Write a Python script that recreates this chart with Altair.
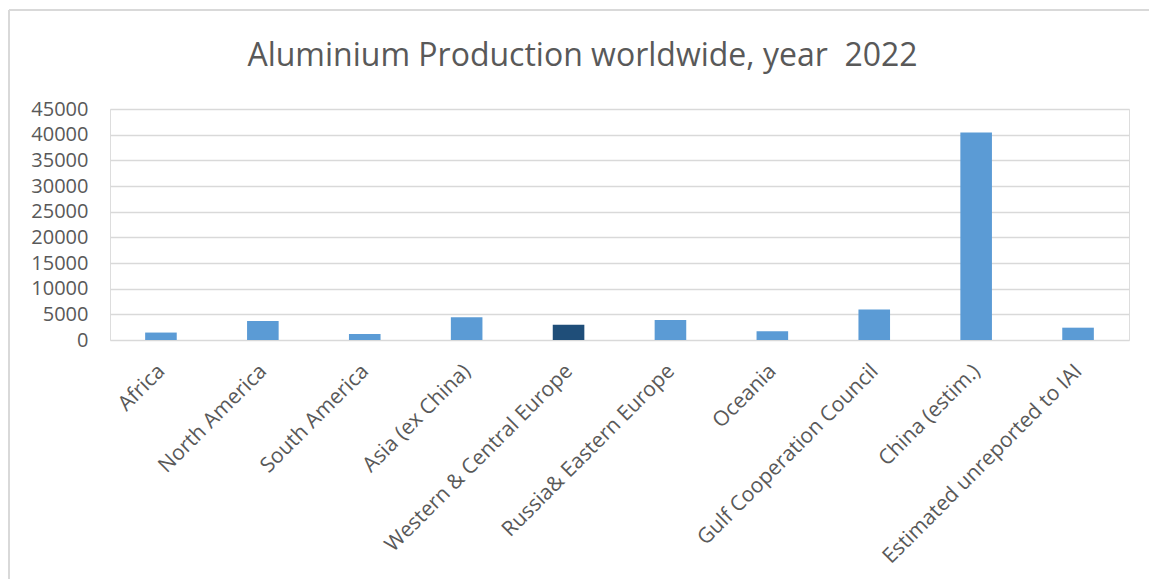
import altair as alt
import pandas as pd

categories = [
    "Africa", "North America", "South America", "Asia (ex China)",
    "Western & Central Europe", "Russia& Eastern Europe", "Oceania",
    "Gulf Cooperation Council", "China (estim.)", "Estimated unreported to IAI",
]
values = [1450, 3700, 1150, 4420, 2990, 3900, 1700, 5950, 40400, 2400]
highlighted = ["Western & Central Europe"]
y_ticks = [0, 5000, 10000, 15000, 20000, 25000, 30000, 35000, 40000, 45000]
title_text = "Aluminium Production worldwide, year \u00a02022"

df = pd.DataFrame({"region": categories, "value": values})

TEXT = "#595959"
GRID = "#D9D9D9"
FONT = "Open Sans"

bars = alt.Chart(df).mark_bar().encode(
    x=alt.X("region:N", sort=categories, title=None,
            scale=alt.Scale(paddingInner=0.69, paddingOuter=0.345),
            axis=alt.Axis(labelAngle=-45, labelAlign="right", labelBaseline="top",
                          labelFont=FONT, labelFontSize=21, labelColor=TEXT,
                          ticks=False, domain=False, labelPadding=20, labelOffset=-7,
                          labelLimit=400)),
    y=alt.Y("value:Q", title=None,
            scale=alt.Scale(domain=[0, 45000], nice=False),
            axis=alt.Axis(values=y_ticks, grid=True, gridColor=GRID, gridWidth=1.5,
                          domain=False, ticks=False, labelFont=FONT, labelFontSize=20,
                          labelColor=TEXT, labelPadding=22, format="d")),
    color=alt.condition(
        alt.FieldOneOfPredicate(field="region", oneOf=highlighted),
        alt.value("#1F4E79"), alt.value("#5B9BD5")),
)

left_border = alt.Chart(df).mark_rule(color=GRID, strokeWidth=2).encode(
    x=alt.value(-101), y=alt.value(-99), y2=alt.value(470))
top_border = alt.Chart(df).mark_rule(color=GRID, strokeWidth=2).encode(
    x=alt.value(-101), x2=alt.value(1039), y=alt.value(-99))

chart = alt.layer(left_border, top_border, bars).properties(
    width=1019, height=231,
    title=alt.TitleParams(title_text, font=FONT, fontSize=32, fontWeight="normal",
                          color=TEXT, anchor="middle", dx=-37, offset=-89,
                          baseline="alphabetic"),
    autosize=alt.AutoSizeParams(type="none"),
    padding={"left": 110, "top": 109, "right": 20, "bottom": 239},
).configure_view(stroke=None).configure(background="white")

chart.save("out.html", embed_options={"renderer": "svg", "actions": False})
